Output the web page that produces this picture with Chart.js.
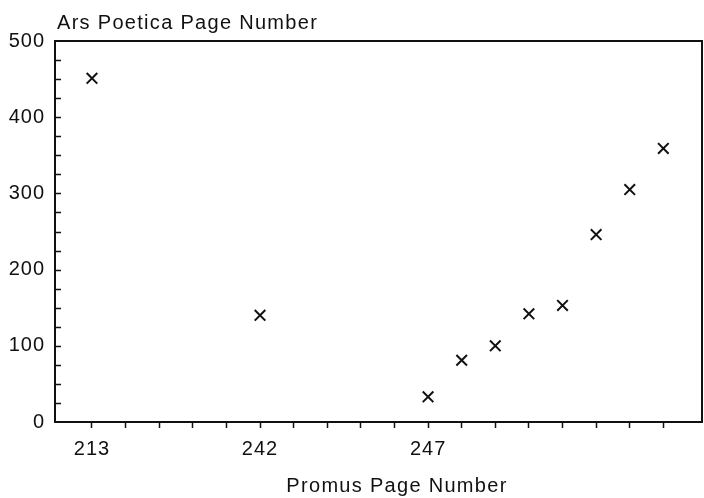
<!DOCTYPE html>
<html>
<head>
<meta charset="utf-8">
<script src="https://cdn.jsdelivr.net/npm/chart.js@4/dist/chart.umd.min.js"></script>
<style>
  html, body { margin: 0; padding: 0; background: #fff; }
  #wrap { width: 704px; height: 498px; position: relative; }
</style>
</head>
<body>
<div id="wrap"><canvas id="chart"></canvas></div>
<script>
Chart.defaults.font.family = '"Liberation Sans", Arial, Helvetica, sans-serif';
Chart.defaults.font.size = 20;
Chart.defaults.color = '#111';

// x positions are slots along the Promus axis; only some slots carry a page label
const promusSlots = [0, 5, 10, 11, 12, 13, 14, 15, 16, 17];
const arsPages = [451, 140, 33, 81, 100, 142, 153, 246, 305, 359];
const slotLabels = ['213', '', '', '', '', '242', '', '', '', '', '247', '', '', '', '', '', '', ''];
const yTicks = [0, 25, 50, 75, 100, 125, 150, 175, 200, 225, 250, 275, 300, 325, 350, 375, 400, 425, 450, 475, 500];

const INK = '#111';
const TITLE_FONT = '20px "Liberation Sans", Arial, sans-serif';

// frame, inward y ticks and both axis captions
const framePlugin = {
    id: 'frame',
    beforeDraw(chart) {
        chart.ctx.letterSpacing = '1px';
    },
    afterDraw(chart) {
        const { ctx, chartArea: a, scales } = chart;
        ctx.save();
        ctx.strokeStyle = INK;
        ctx.lineWidth = 2;
        ctx.beginPath();
        ctx.moveTo(a.left, a.top);
        ctx.lineTo(a.right, a.top);
        ctx.lineTo(a.right, a.bottom);
        ctx.stroke();

        ctx.lineWidth = 1.5;
        scales.y.ticks.forEach(t => {
            if (t.value <= 0 || t.value >= 500) return;
            const y = Math.round(scales.y.getPixelForValue(t.value)) + 0.5;
            ctx.beginPath();
            ctx.moveTo(a.left, y);
            ctx.lineTo(a.left + 6, y);
            ctx.stroke();
        });

        ctx.letterSpacing = '1.3px';
        ctx.fillStyle = INK;
        ctx.font = TITLE_FONT;
        ctx.textBaseline = 'alphabetic';
        ctx.textAlign = 'left';
        ctx.fillText('Ars Poetica Page Number', a.left + 2, 29);
        ctx.textAlign = 'center';
        ctx.fillText('Promus Page Number', 397, 492);
        ctx.restore();
    }
};

new Chart(document.getElementById('chart'), {
    type: 'scatter',
    data: {
        datasets: [{
            data: promusSlots.map((x, i) => ({ x: x, y: arsPages[i] })),
            pointStyle: 'crossRot',
            pointRadius: 7.5,
            pointBorderWidth: 2,
            borderColor: INK,
            backgroundColor: INK
        }]
    },
    options: {
        responsive: true,
        maintainAspectRatio: false,
        animation: false,
        layout: { autoPadding: false, padding: { top: 41, right: 2, bottom: 0, left: 0 } },
        plugins: {
            legend: { display: false },
            tooltip: { enabled: false }
        },
        scales: {
            x: {
                type: 'linear',
                min: -1.1,
                max: 18.15,
                afterBuildTicks: (scale) => {
                    scale.ticks = slotLabels.map((_, i) => ({ value: i }));
                },
                afterFit: (scale) => { scale.height = 76; },
                grid: {
                    drawOnChartArea: false,
                    drawTicks: true,
                    tickLength: 6,
                    tickWidth: 1.5,
                    color: INK
                },
                border: { display: true, color: INK, width: 2 },
                ticks: {
                    autoSkip: false,
                    maxRotation: 0,
                    padding: 9,
                    color: INK,
                    callback: (v) => slotLabels[v] || ''
                }
            },
            y: {
                min: 0,
                max: 500,
                afterBuildTicks: (scale) => {
                    scale.ticks = yTicks.map(v => ({ value: v }));
                },
                afterFit: (scale) => { scale.width = 55; },
                grid: { display: false, drawTicks: false },
                border: { display: true, color: INK, width: 2 },
                ticks: {
                    autoSkip: false,
                    padding: 10,
                    color: INK,
                    callback: (v) => (v % 100 === 0 ? String(v) : '')
                }
            }
        }
    },
    plugins: [framePlugin]
});
</script>
</body>
</html>
